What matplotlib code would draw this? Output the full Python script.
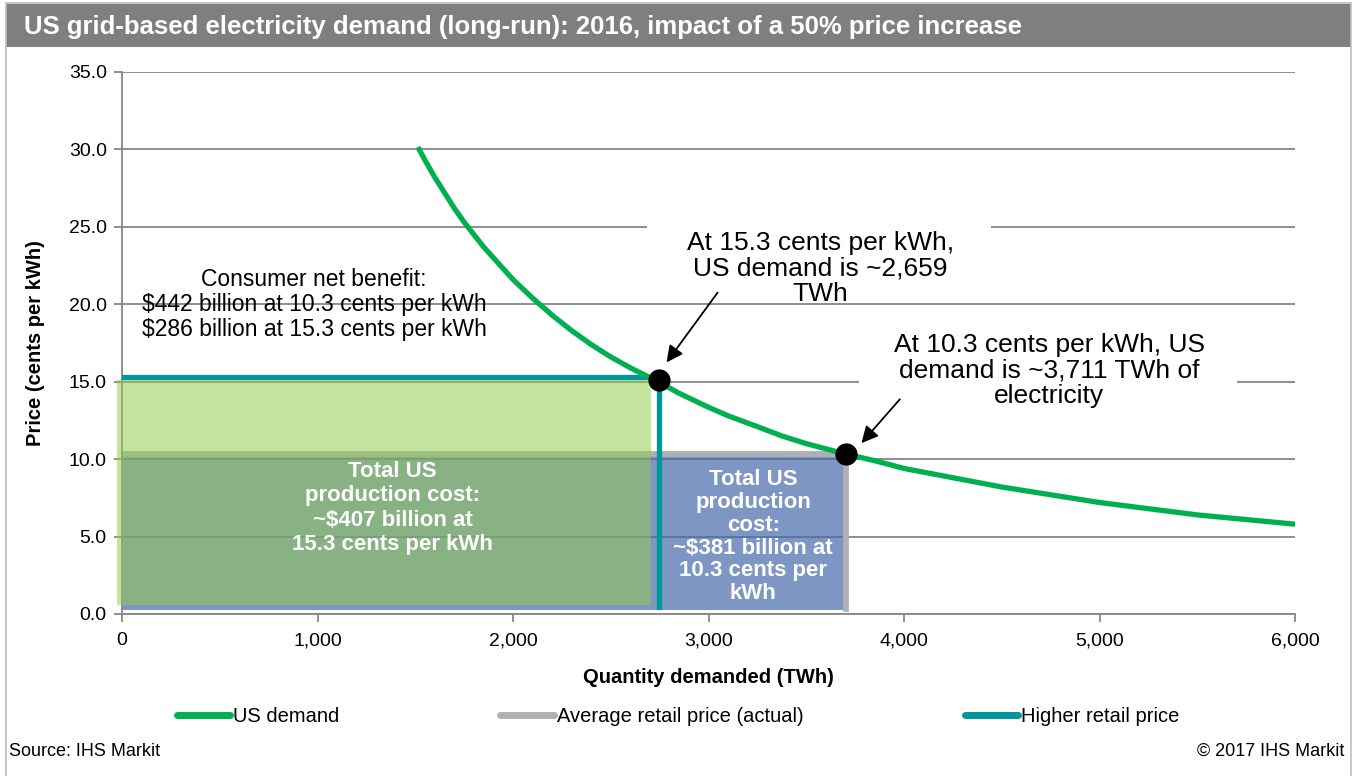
import matplotlib.pyplot as plt
from matplotlib.patches import Rectangle
from matplotlib.lines import Line2D

plt.rcParams['font.family'] = ['Liberation Sans', 'DejaVu Sans']

# demand curve (TWh, cents per kWh)
quantity = [1520, 1550, 1600, 1650, 1700, 1750, 1800, 1850, 1900, 1950, 2000,
            2100, 2200, 2300, 2400, 2500, 2600, 2750, 2850, 3000, 3100, 3250,
            3375, 3500, 3711, 3850, 4000, 4250, 4500, 4750, 5000, 5250, 5500,
            5750, 6000]
price = [30.0, 29.3, 28.2, 27.2, 26.2, 25.3, 24.5, 23.7, 23.0, 22.3, 21.6,
         20.4, 19.3, 18.3, 17.4, 16.6, 15.9, 14.95, 14.25, 13.35, 12.8, 12.1,
         11.5, 11.0, 10.3, 9.9, 9.4, 8.8, 8.2, 7.7, 7.2, 6.8, 6.4,
         6.1, 5.8]

# the two marked points on the curve
point_q = [2745, 3705]
point_p = [15.1, 10.3]

# price lines
actual_q = [0, 3705, 3705]
actual_p = [10.3, 10.3, 0.3]
higher_q = [0, 2745, 2745]
higher_p = [15.3, 15.3, 0.45]

yticks = [0, 5, 10, 15, 20, 25, 30, 35]
xticks = [0, 1000, 2000, 3000, 4000, 5000, 6000]

grey = '#868686'
W, H = 1356, 776

fig = plt.figure(figsize=(13.56, 7.76), dpi=100)
ax = fig.add_axes([122/W, 1 - 614/H, (1295-122)/W, (614-72)/H])

# frame + title bar
for xs, ys in [([6/W, 6/W], [0, 1 - 3/H]), ([1351/W, 1351/W], [0, 1 - 3/H]),
               ([6/W, 1351/W], [1 - 3/H, 1 - 3/H])]:
    fig.add_artist(Line2D(xs, ys, color='#bfbfbf', lw=1.2))
fig.add_artist(Rectangle((6/W, 1 - 47/H), 1345/W, 43/H, facecolor='#7f7f7f',
                         edgecolor='none', transform=fig.transFigure))
fig.text(24/W, 1 - 27/H, 'US grid-based electricity demand (long-run): 2016, impact of a 50% price increase',
         color='white', fontsize=18.5, fontweight='bold', va='center')

# areas
ax.add_patch(Rectangle((0, 0.25), actual_q[1], actual_p[0] - 0.25,
                       facecolor='#486aab', alpha=0.7, edgecolor='none', zorder=1))
ax.plot(actual_q, actual_p, color='#b1b1b5', lw=4.2, zorder=2)
ax.add_patch(Rectangle((-25, 0.6), higher_q[1] - 12, 15.1 - 0.6, clip_on=False,
                       facecolor='#91cc4c', alpha=0.53, edgecolor='none', zorder=3))
ax.plot(higher_q, higher_p, color='#00979a', lw=3.8, zorder=4)

# white text boxes over the grid
ax.add_patch(Rectangle((2686, 20.9), 1760, 4.9, facecolor='white', edgecolor='none', zorder=1.5))
ax.add_patch(Rectangle((3772, 13.2), 1930, 5.4, facecolor='white', edgecolor='none', zorder=1.5))

ax.plot(quantity, price, color='#00b050', lw=3.8, zorder=5, solid_joinstyle='round')
ax.plot(point_q, point_p, 'o', color='black', ms=15, zorder=6)

ax.set_xlim(0, 6000)
ax.set_ylim(0, 35)
ax.set_xticks(xticks)
ax.set_xticklabels([f'{v:,}' for v in xticks])
ax.set_yticks(yticks)
ax.set_yticklabels([f'{v:.1f}' for v in yticks])
ax.tick_params(colors=grey, labelcolor='black', labelsize=14, length=6, width=1.3)
ax.tick_params(axis='x', pad=7)
ax.tick_params(axis='y', pad=5)
for s in ['top', 'right']:
    ax.spines[s].set_visible(False)
for s in ['left', 'bottom']:
    ax.spines[s].set_color(grey)
    ax.spines[s].set_linewidth(1.3)
ax.yaxis.grid(True, color=grey, lw=1.3)
ax.set_axisbelow(True)

ax.set_xlabel('Quantity demanded (TWh)', fontsize=14.5, fontweight='bold')
ax.xaxis.set_label_coords(0.5, -0.1)
ax.set_ylabel('Price (cents per kWh)', fontsize=14.5, fontweight='bold')
ax.yaxis.set_label_coords(-0.066, 0.5)

# annotations
ax.text(983, 20.0, 'Consumer net benefit:\n$442 billion at 10.3 cents per kWh\n$286 billion at 15.3 cents per kWh',
        ha='center', va='center', fontsize=16.5, linespacing=1.12, zorder=7)
ax.text(3572, 22.3, 'At 15.3 cents per kWh,\nUS demand is ~2,659\nTWh',
        ha='center', va='center', fontsize=19, linespacing=1.08, zorder=7)
ax.text(4743, 15.7, 'At 10.3 cents per kWh, US\ndemand is ~3,711 TWh of\nelectricity',
        ha='center', va='center', fontsize=19, linespacing=1.08, zorder=7)
ax.annotate('', xy=(2777, 16.1), xytext=(3055, 20.9),
            arrowprops=dict(arrowstyle='-|>', color='black', lw=1.3, mutation_scale=25), zorder=7)
ax.annotate('', xy=(3773, 10.9), xytext=(3988, 14.0),
            arrowprops=dict(arrowstyle='-|>', color='black', lw=1.3, mutation_scale=25), zorder=7)
ax.text(1383, 6.85, 'Total US\nproduction cost:\n~$407 billion at\n15.3 cents per kWh',
        ha='center', va='center', fontsize=16, fontweight='bold', color='white', linespacing=1.22, zorder=7)
ax.text(3229, 5.0, 'Total US\nproduction\ncost:\n~$381 billion at\n10.3 cents per\nkWh',
        ha='center', va='center', fontsize=16, fontweight='bold', color='white', linespacing=1.12, zorder=7)

handles = [Line2D([], [], color='#00b050', lw=5, solid_capstyle='round'),
           Line2D([], [], color='#b1b1b5', lw=5, solid_capstyle='round'),
           Line2D([], [], color='#00979a', lw=5, solid_capstyle='round')]
fig.legend(handles, ['US demand', 'Average retail price (actual)', 'Higher retail price'],
           loc='center', bbox_to_anchor=(0.5, 1 - 717/H), ncol=3, frameon=False, fontsize=14.5,
           handlelength=2.65, handletextpad=0.15, columnspacing=8.0)

fig.text(9/W, 1 - 751/H, 'Source: IHS Markit', fontsize=13, va='center')
fig.text(1344/W, 1 - 751/H, '\u00a9 2017 IHS Markit', fontsize=13, va='center', ha='right')

fig.savefig('out.png', dpi=100)
